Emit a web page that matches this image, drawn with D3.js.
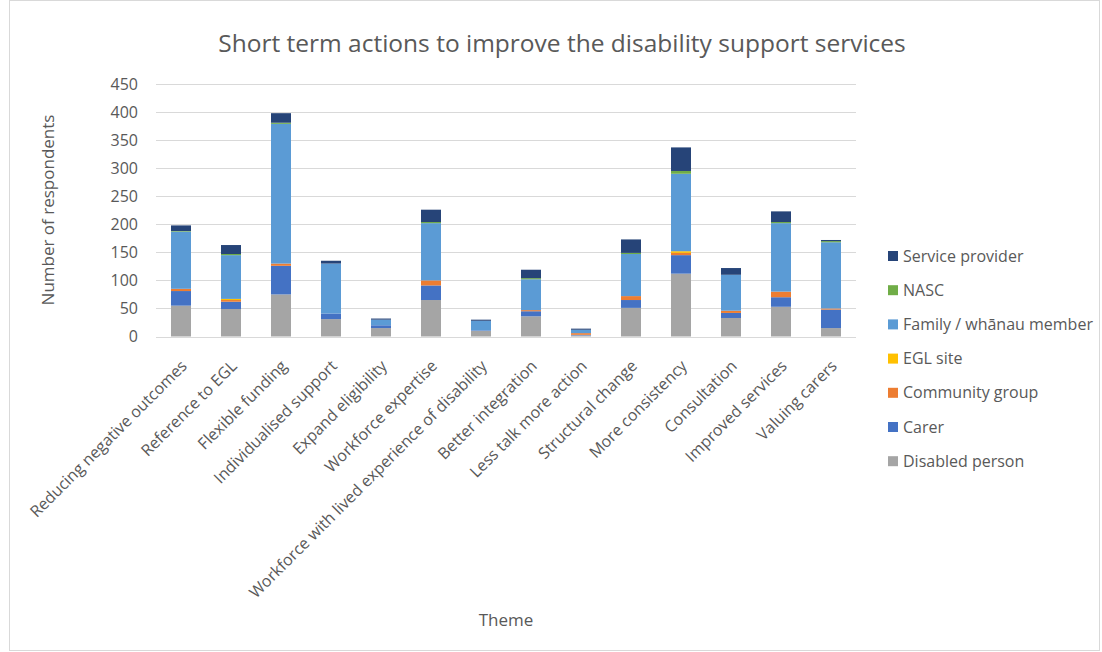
<!DOCTYPE html>
<html>
<head>
    <title>Short term actions</title>
    <style>
        body { margin: 0; background: #fff; }
        svg text { font-family: "Open Sans", "Noto Sans", sans-serif; fill: #595959; }
    </style>
</head>
<body>
    <svg width="1102" height="652"></svg>
    <script src="https://cdn.jsdelivr.net/npm/d3@7"></script>
    <script>
        const themes = ["Reducing negative outcomes", "Reference to EGL", "Flexible funding",
            "Individualised support", "Expand eligibility", "Workforce expertise",
            "Workforce with lived experience of disability", "Better integration",
            "Less talk more action", "Structural change", "More consistency",
            "Consultation", "Improved services", "Valuing carers"];

        // stacked bottom to top
        const groups = ["Disabled person", "Carer", "Community group", "EGL site",
            "Family / whānau member", "NASC", "Service provider"];
        const colors = ["#a5a5a5", "#4472c4", "#ed7d31", "#ffc000", "#5b9bd5", "#70ad47", "#264478"];

        const disabled  = [55, 49, 75, 31, 15, 65, 10, 36, 2, 51, 112, 33, 53, 15];
        const carer     = [26, 13, 51, 10, 5, 26, 1, 9, 1, 14, 33, 9, 17, 33];
        const community = [4, 3, 4, 0, 0, 9, 0, 2, 3, 7, 4, 4, 10, 2];
        const eglSite   = [0, 2, 0, 0, 0, 0, 0, 0, 0, 0, 3, 0, 0, 0];
        const family    = [102, 78, 249, 89, 10, 102, 17, 55, 6, 75, 138, 64, 122, 118];
        const nasc      = [1, 2, 2, 0, 0, 2, 0, 2, 0, 2, 5, 0, 2, 2];
        const service   = [10, 16, 17, 5, 2, 22, 2, 15, 2, 24, 42, 12, 19, 2];

        const yTicks = [0, 50, 100, 150, 200, 250, 300, 350, 400, 450];

        const series = [disabled, carer, community, eglSite, family, nasc, service];
        const rows = themes.map((t, i) => {
            const r = { theme: t };
            groups.forEach((g, k) => r[g] = series[k][i]);
            return r;
        });

        const svg = d3.select("svg");
        const margin = { left: 156, right: 246, top: 84 };
        const W = 1102;

        svg.append("rect")
            .attr("x", 9.5).attr("y", 0.5)
            .attr("width", 1090).attr("height", 650)
            .attr("fill", "none").attr("stroke", "#d9d9d9");

        const x = d3.scaleBand()
            .domain(themes)
            .range([margin.left, W - margin.right])
            .paddingInner(0.6).paddingOuter(0.3);

        const y = d3.scaleLinear()
            .domain([0, 450])
            .range([336.5, margin.top]);

        // gridlines
        svg.append("g")
            .selectAll("line")
            .data(yTicks)
            .join("line")
            .attr("x1", margin.left).attr("x2", W - margin.right)
            .attr("y1", d => Math.round(y(d)) + 0.5).attr("y2", d => Math.round(y(d)) + 0.5)
            .attr("stroke", "#d9d9d9").attr("stroke-width", 1);

        // y tick labels
        svg.append("g")
            .selectAll("text")
            .data(yTicks)
            .join("text")
            .attr("x", 138).attr("y", d => y(d))
            .attr("dy", "0.35em")
            .attr("text-anchor", "end")
            .style("font-size", "16px")
            .text(d => d);

        const stack = d3.stack().keys(groups);
        const layers = stack(rows);

        svg.append("g")
            .selectAll("g")
            .data(layers)
            .join("g")
            .attr("fill", (d, i) => colors[i])
            .selectAll("rect")
            .data(d => d)
            .join("rect")
            .attr("x", d => x(d.data.theme))
            .attr("width", x.bandwidth())
            .attr("y", d => y(d[1]))
            .attr("height", d => Math.max(0, y(d[0]) - y(d[1])));

        // x labels
        svg.append("g")
            .selectAll("text")
            .data(themes)
            .join("text")
            .attr("transform", d => `translate(${x(d) + x.bandwidth() / 2 + 7},${367}) rotate(-45)`)
            .attr("text-anchor", "end")
            .style("font-size", "16px")
            .text(d => d);

        // titles
        svg.append("text")
            .attr("x", 562).attr("y", 52)
            .attr("text-anchor", "middle")
            .style("font-size", "24.5px")
            .text("Short term actions to improve the disability support services");

        svg.append("text")
            .attr("transform", "translate(54,210) rotate(-90)")
            .attr("text-anchor", "middle")
            .style("font-size", "17px")
            .text("Number of respondents");

        svg.append("text")
            .attr("x", 506).attr("y", 626)
            .attr("text-anchor", "middle")
            .style("font-size", "17px")
            .text("Theme");

        // legend, top to bottom reversed
        const legendItems = groups.map((g, i) => ({ g, c: colors[i] })).reverse();
        const legend = svg.append("g")
            .selectAll("g")
            .data(legendItems)
            .join("g")
            .attr("transform", (d, i) => `translate(888,${256 + i * 34.2})`);
        legend.append("rect")
            .attr("x", 0).attr("y", -5).attr("width", 10).attr("height", 10)
            .attr("fill", d => d.c);
        legend.append("text")
            .attr("x", 15).attr("dy", "0.35em")
            .style("font-size", "16px")
            .text(d => d.g);
    </script>
</body>
</html>
